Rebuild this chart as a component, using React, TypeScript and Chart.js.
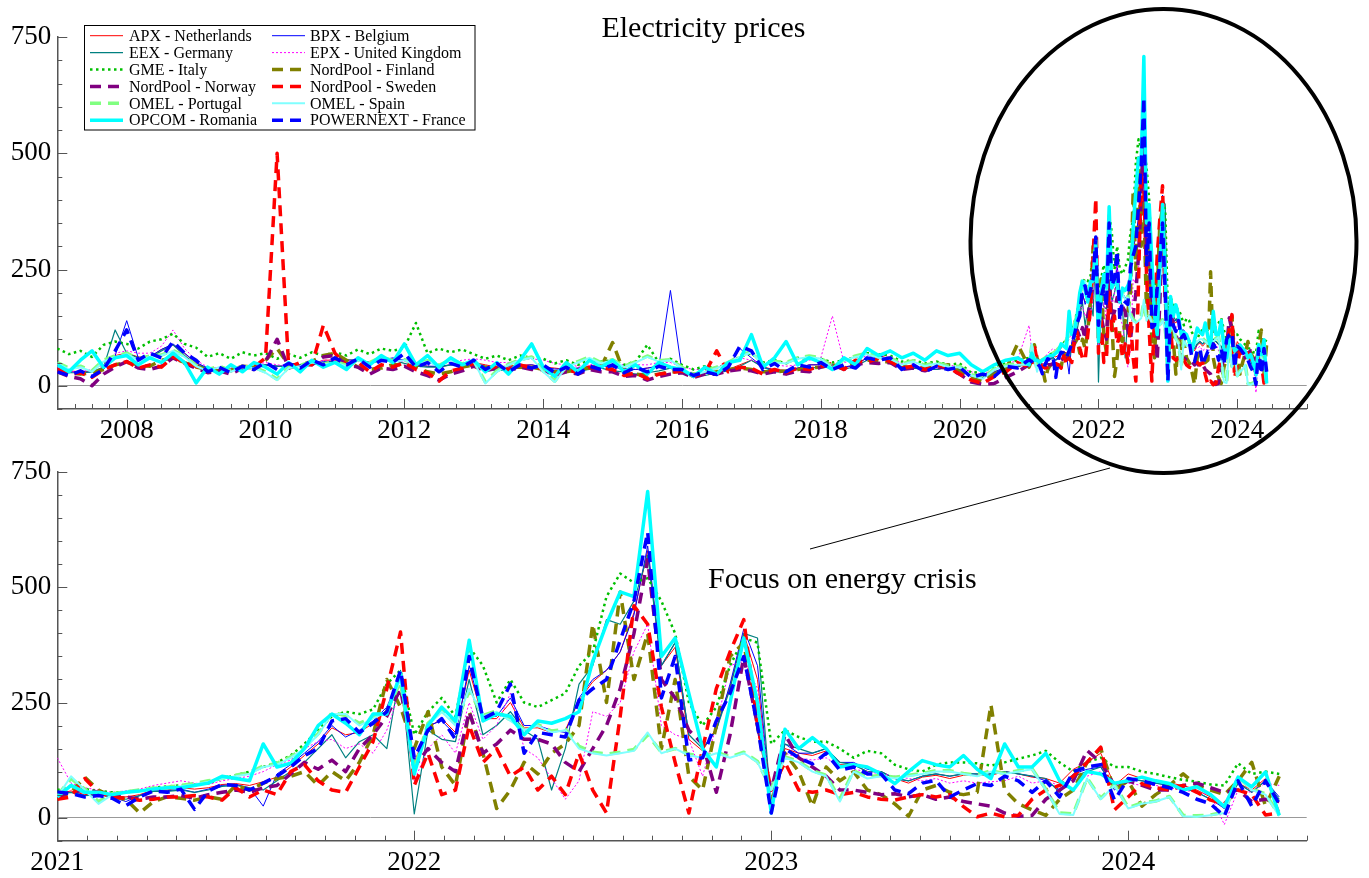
import React, { useEffect, useRef } from "react";
import { Chart, registerables } from "chart.js";
Chart.register(...registerables);

// ---------- time grids ----------
const HIST_START = 2007;
const HIST_STEP = 1 / 6; // two-monthly, 2007.0 .. 2020.83
const HIST_COUNT = 84;
const CRISIS_START = 2021;
const CRISIS_STEP = 1 / 26; // bi-weekly, 2021.0 .. 2024.42
const CRISIS_COUNT = 90;

const SERIES_NAMES = [
  "APX - Netherlands", "BPX - Belgium",
  "EEX - Germany", "EPX - United Kingdom",
  "GME - Italy", "NordPool - Finland",
  "NordPool - Norway", "NordPool - Sweden",
  "OMEL - Portugal", "OMEL - Spain",
  "OPCOM - Romania", "POWERNEXT - France",
];

// ---------- historical values (2007–2020) ----------
const nlHist = [38,32,30,32,38,65, 70,62,62,78,88,70, 48,38,33,36,36,42, 45,42,42,45,46,55, 55,55,55,50,55,58, 55,45,42,40,45,48, 50,45,40,42,45,45, 40,38,35,38,42,45, 40,38,35,38,42,42, 30,25,28,30,35,45, 55,40,35,33,38,45, 45,45,38,45,60,65, 58,40,38,35,35,40, 35,22,18,30,40,45];
const beHist = [36,30,28,30,35,65, 140,60,62,78,90,70, 50,38,33,36,35,40, 45,42,42,45,46,52, 52,55,55,50,55,60, 55,45,42,42,45,48, 48,42,38,40,42,45, 40,36,35,38,40,42, 40,36,35,38,42,205, 30,25,26,30,40,80, 60,40,33,33,38,45, 45,45,40,45,60,65, 55,40,38,35,35,40, 35,22,18,30,40,42];
const deHist = [32,28,28,30,40,120, 70,60,60,75,88,65, 45,38,33,35,35,38, 45,42,42,45,45,50, 52,55,55,50,52,55, 48,42,40,40,45,45, 42,38,32,35,38,38, 35,32,30,32,35,38, 32,30,25,28,32,38, 28,22,22,28,32,42, 55,40,30,30,35,38, 40,42,35,42,55,60, 52,40,38,35,35,40, 35,20,18,28,38,40];
const ukHist = [40,30,30,35,45,70, 75,70,70,85,120,80, 55,40,38,38,40,45, 50,45,42,45,48,55, 55,55,52,50,55,55, 52,50,48,45,50,55, 58,55,50,50,55,58, 55,48,45,42,45,50, 50,45,45,45,50,50, 40,35,35,40,50,60, 55,48,45,42,45,55, 60,150,50,55,65,70, 60,48,40,38,38,45, 40,30,25,35,45,55];
const itHist = [80,68,75,62,88,95, 90,80,95,100,112,90, 82,62,70,58,72,65, 70,58,68,60,72,65, 72,65,78,68,80,75, 82,135,70,80,72,78, 68,58,65,55,65,60, 58,48,55,45,56,52, 55,45,52,88,50,58, 45,35,42,38,48,62, 70,50,55,48,60,58, 58,50,55,62,70,68, 65,52,55,48,52,45, 48,28,30,42,48,55];
const fiHist = [30,28,25,28,35,45, 50,45,42,55,60,50, 40,35,32,35,38,40, 55,80,45,45,52,65, 70,55,40,35,38,45, 45,40,30,25,30,40, 45,40,38,40,40,40, 35,30,30,35,38,40, 93,28,25,22,25,30, 30,25,25,30,35,38, 35,30,30,32,35,38, 40,45,40,50,55,55, 50,42,38,38,40,45, 30,18,10,25,35,90];
const noHist = [30,20,15,0,25,40, 52,38,35,42,60,48, 38,28,32,25,38,35, 52,100,38,45,45,62, 65,45,40,25,38,35, 42,30,22,12,25,32, 42,32,38,32,40,35, 35,22,30,25,35,30, 30,20,22,12,20,25, 28,18,25,25,32,35, 32,25,30,25,32,30, 40,45,35,45,50,48, 50,35,38,32,40,38, 25,8,3,5,18,30];
const seHist = [35,25,28,18,35,45, 52,38,45,40,62,50, 42,30,40,32,42,40, 60,500,40,50,45,130, 70,45,50,30,45,40, 50,35,28,10,32,38, 48,35,42,35,45,38, 38,25,35,28,40,38, 35,22,28,15,25,28, 32,20,28,75,30,40, 38,25,35,28,38,35, 42,48,35,55,50,60, 52,38,42,35,45,40, 25,12,5,20,30,50];
const ptHist = [50,38,42,32,55,64, 70,58,64,66,76,64, 44,34,42,32,42,40, 30,14,40,44,52,47, 52,44,56,50,62,54, 56,46,54,44,56,47, 54,8,32,46,56,62, 32,10,42,52,62,50, 56,42,52,64,54,56, 40,24,32,40,50,64, 74,47,52,50,60,64, 60,40,56,64,70,62, 60,47,54,44,50,42, 42,24,17,36,44,47];
const esHist = [48,35,40,30,52,62, 68,55,62,65,75,62, 42,32,40,30,40,38, 28,12,38,42,50,45, 50,42,55,48,60,52, 55,45,52,42,55,45, 52,5,30,45,55,60, 30,8,40,50,60,48, 55,40,50,62,52,55, 38,22,30,38,48,62, 72,45,50,48,58,62, 58,38,55,62,68,60, 58,45,52,42,48,40, 40,22,15,35,42,45];
const roHist = [45,30,55,75,40,60, 65,45,60,50,70,50, 6,40,25,45,30,50, 40,25,50,30,55,40, 50,35,60,45,65,50, 90,45,65,40,60,45, 55,30,50,25,55,90, 40,20,50,30,55,40, 55,30,45,25,50,40, 35,20,40,25,50,55, 110,40,60,95,45,60, 50,35,60,45,80,65, 75,60,70,55,75,65, 70,45,30,45,55,60];
const frHist = [30,22,32,20,35,75, 120,55,70,60,95,70, 55,30,40,28,42,35, 50,35,48,38,55,45, 60,45,58,40,55,50, 70,40,50,30,48,40, 55,35,48,30,45,38, 45,28,40,25,42,35, 45,28,40,30,42,35, 35,22,30,24,40,85, 75,35,48,30,45,40, 50,35,45,38,60,55, 60,35,45,30,42,35, 40,18,25,20,42,38];

// ---------- crisis values (2021–2024.4, bi-weekly) ----------
const nlCrisis = [52,58,50,52,48,45,50,60,60,65, 62,65,72,74,70,78,88,110,135,160, 195,180,185,205,235,300,120,195,215,185, 320,215,215,250,195,195,185,190,255,295, 320,360,445,580,330,370,170,145,195,285, 400,300,20,150,140,135,145,115,115,100, 100,85,75,88,92,85,92,92,92,100, 95,88,85,75,105,120,140,70,95,85, 80,75,70,60,45,20,75,60,85,15];
const beCrisis = [55,55,48,50,45,35,48,58,58,62, 55,62,70,72,65,25,95,115,140,165, 200,175,190,210,240,310,110,200,210,180, 330,220,220,260,200,200,190,185,260,300, 320,360,440,590,330,380,180,150,190,290, 410,330,25,160,140,140,150,120,120,105, 100,85,80,90,95,90,95,95,95,100, 95,90,80,60,95,105,110,60,85,80, 75,70,65,55,40,20,75,55,80,45];
const deCrisis = [50,55,48,50,45,40,48,57,57,60, 55,60,68,70,65,60,80,100,120,150, 180,130,165,180,150,320,8,190,170,165, 300,180,200,230,190,170,60,150,290,330, 430,420,470,570,330,380,180,150,190,280, 400,390,20,160,150,140,150,120,115,100, 100,85,80,90,95,90,95,95,95,100, 95,90,85,55,90,100,110,65,85,80, 75,70,65,55,40,25,75,55,80,40];
const ukCrisis = [130,75,65,60,55,58,62,70,75,80, 75,72,80,85,90,100,115,125,150,165, 170,150,160,140,190,280,80,150,180,140, 250,170,200,270,150,130,85,40,80,230, 220,250,360,420,200,180,170,90,200,330, 340,280,40,140,130,125,130,110,105,100, 95,90,85,80,85,75,80,75,78,80, 90,75,80,70,80,90,100,70,75,70, 70,65,60,55,50,-15,60,55,75,70];
const itCrisis = [60,68,62,58,55,55,58,65,68,70, 72,75,85,92,100,110,120,135,160,190, 220,230,225,235,290,320,180,230,260,220, 370,330,250,300,250,240,255,270,330,360, 480,530,510,520,470,400,250,200,240,330, 390,380,160,190,175,165,165,150,130,145, 140,115,105,100,115,120,120,118,113,120, 128,135,145,120,100,120,130,110,110,100, 95,88,82,78,72,70,118,95,100,95];
const fiCrisis = [40,55,88,60,45,40,10,35,45,42, 38,45,40,70,60,75,85,90,100,70, 100,80,120,180,300,240,150,230,110,70, 230,140,20,60,120,95,140,160,200,420, 250,490,300,400,150,300,90,60,200,350, 380,200,30,140,100,25,110,80,100,60, 50,30,3,60,70,55,50,55,245,60, 30,17,5,40,60,120,150,60,80,25, 50,70,95,70,60,50,80,120,25,90];
const noCrisis = [45,55,60,55,48,45,40,45,45,48, 42,50,55,60,55,65,70,95,120,105, 125,100,150,180,220,280,110,150,120,100, 230,140,160,190,170,170,160,120,100,150, 200,280,400,560,300,260,190,160,55,180, 350,200,60,180,130,110,90,60,60,55, 50,52,45,50,40,45,35,30,25,10, 3,5,40,60,80,146,120,70,80,70, 60,60,70,75,65,55,60,35,40,35];
const seCrisis = [40,45,85,55,45,42,38,40,45,45, 48,45,38,65,45,60,50,100,115,80, 60,55,110,165,280,403,70,140,50,60, 200,120,150,90,110,60,90,50,140,60, 10,220,460,420,240,120,10,150,280,360, 430,200,60,120,60,55,60,50,55,45, 40,38,45,50,45,50,24,2,10,2, 5,40,60,70,90,120,153,17,45,74, 65,60,70,55,38,30,60,50,6,10];
const ptCrisis = [48,85,62,35,52,56,60,64,66,70, 74,80,86,92,98,112,118,132,152,182, 228,222,205,218,232,295,105,205,232,205, 275,222,232,212,192,202,188,192,155,142, 138,142,148,180,142,150,138,132,142,132, 142,122,62,132,122,102,92,40,102,88, 92,88,92,96,102,102,96,92,102,96, 102,106,62,10,8,86,42,72,22,32, 36,46,5,4,6,12,88,62,52,5];
const esCrisis = [45,90,60,30,50,55,58,62,65,68, 72,78,85,90,95,110,115,130,150,180, 225,225,200,215,230,300,100,200,230,200, 280,220,230,210,190,200,185,190,150,140, 135,140,145,185,140,150,135,130,140,130, 140,120,60,130,120,100,90,35,100,85, 90,85,90,95,100,100,95,90,100,95, 100,105,60,8,6,85,40,70,20,30, 35,45,3,2,5,10,88,60,50,3];
const roCrisis = [45,70,55,55,50,55,58,62,65,65, 70,75,90,85,80,160,110,118,150,200, 225,205,180,225,225,314,95,200,240,210, 385,210,225,220,180,210,205,215,230,340, 420,490,480,708,350,390,270,150,110,250, 390,250,10,192,150,174,150,110,115,110, 95,74,100,124,115,110,135,105,85,160, 110,110,140,80,60,100,95,75,80,88, 80,74,60,67,50,24,88,67,99,5];
const frCrisis = [56,52,45,48,42,26,45,58,55,62, 18,58,72,70,60,75,90,110,135,150, 210,215,185,205,230,320,130,190,215,170, 350,215,230,290,140,185,180,175,255,280, 300,385,470,620,260,350,125,130,210,270, 350,200,10,150,130,117,140,103,110,95, 95,60,52,75,81,45,60,74,70,90, 80,55,80,45,100,110,115,38,85,80, 72,65,55,40,30,3,80,25,80,30];

const HIST_VALUES = [nlHist, beHist, deHist, ukHist, itHist, fiHist, noHist, seHist, ptHist, esHist, roHist, frHist];
const CRISIS_VALUES = [nlCrisis, beCrisis, deCrisis, ukCrisis, itCrisis, fiCrisis, noCrisis, seCrisis, ptCrisis, esCrisis, roCrisis, frCrisis];

// ---------- styles ----------
const DASH = [11, 7];
const STYLES = [
  { color: "#ff0000", width: 1, dash: [] as number[] },
  { color: "#0000ff", width: 1, dash: [] as number[] },
  { color: "#008080", width: 1.2, dash: [] as number[] },
  { color: "#ff00ff", width: 1, dash: [2, 2] },
  { color: "#00c000", width: 2.5, dash: [2.5, 3.5] },
  { color: "#808000", width: 3.5, dash: DASH },
  { color: "#800080", width: 3.5, dash: DASH },
  { color: "#ff0000", width: 3.5, dash: DASH },
  { color: "#80ff80", width: 3.5, dash: DASH },
  { color: "#80ffff", width: 2, dash: [] as number[] },
  { color: "#00ffff", width: 3.5, dash: [] as number[] },
  { color: "#0000ff", width: 3.5, dash: DASH },
];

const FONT = "'Liberation Serif', 'Times New Roman', serif";
const AXIS_COLOR = "#555555";
const ZERO_COLOR = "#999999";
const W = 1369;

const histX = Array.from({ length: HIST_COUNT }, (_, j) => HIST_START + j * HIST_STEP);
const crisisX = Array.from({ length: CRISIS_COUNT }, (_, k) => CRISIS_START + k * CRISIS_STEP);

function buildDatasets(full: boolean) {
  return SERIES_NAMES.map((name, i) => {
    const xs = full ? histX.concat(crisisX) : crisisX;
    const ys = full ? HIST_VALUES[i].concat(CRISIS_VALUES[i]) : CRISIS_VALUES[i];
    const st = STYLES[i];
    return {
      label: name,
      data: xs.map((x, n) => ({ x, y: ys[n] })),
      borderColor: st.color,
      backgroundColor: st.color,
      borderWidth: st.width,
      borderDash: st.dash,
      borderJoinStyle: "round" as const,
      pointRadius: 0,
      tension: 0,
      fill: false,
      order: SERIES_NAMES.length - i,
    };
  });
}

function tickPlugin(kind: "top" | "bottom") {
  return {
    id: "inwardTicks",
    afterDraw(chart: any) {
      const ctx = chart.ctx;
      const { left, bottom } = chart.chartArea;
      const xs = chart.scales.x;
      const ys = chart.scales.y;
      ctx.save();
      ctx.strokeStyle = AXIS_COLOR;
      ctx.lineWidth = 1;
      ctx.beginPath();
      for (let v = -50; v <= 750; v += 50) {
        const y = Math.round(ys.getPixelForValue(v)) + 0.5;
        const len = v % 250 === 0 ? 10 : 5;
        ctx.moveTo(left, y);
        ctx.lineTo(left + len, y);
      }
      if (kind === "top") {
        for (let q = 0; q <= 72; q++) {
          const year = 2007 + q / 4;
          const x = Math.round(xs.getPixelForValue(year)) + 0.5;
          const major = q % 4 === 0 && year % 2 === 0;
          ctx.moveTo(x, bottom);
          ctx.lineTo(x, bottom - (major ? 10 : 5));
        }
      } else {
        for (let m = 0; m <= 42; m++) {
          const v = 2021 + m / 12;
          const x = Math.round(xs.getPixelForValue(v)) + 0.5;
          const major = m % 12 === 0;
          ctx.moveTo(x, bottom);
          ctx.lineTo(x, bottom - (major ? 10 : 5));
        }
      }
      ctx.stroke();
      ctx.restore();
    },
  };
}

const legendPlugin = {
  id: "customLegend",
  afterDraw(chart: any) {
    const ctx = chart.ctx;
    ctx.save();
    ctx.fillStyle = "#ffffff";
    ctx.fillRect(84.5, 25.5, 390.5, 104.5);
    ctx.strokeStyle = "#000000";
    ctx.lineWidth = 1;
    ctx.strokeRect(84.5, 25.5, 390.5, 104.5);
    ctx.font = `16px ${FONT}`;
    ctx.textBaseline = "middle";
    SERIES_NAMES.forEach((name, i) => {
      const row = Math.floor(i / 2);
      const col = i % 2;
      const y = 35.7 + row * 16.9;
      const x0 = col === 0 ? 90 : 272;
      const st = STYLES[i];
      ctx.strokeStyle = st.color;
      ctx.lineWidth = st.width;
      ctx.setLineDash(st.dash);
      ctx.beginPath();
      ctx.moveTo(x0, y);
      ctx.lineTo(x0 + 33, y);
      ctx.stroke();
      ctx.setLineDash([]);
      ctx.fillStyle = "#000000";
      ctx.fillText(name, col === 0 ? 129 : 310, y + 1);
    });
    ctx.restore();
  },
};

function makeOptions(xmin: number, xmax: number, padTop: number, xAxisH: number, xLabel: (v: number) => string): any {
  return {
    responsive: false,
    maintainAspectRatio: false,
    animation: false,
    layout: { padding: { top: padTop, right: W - 1306.7, left: 0, bottom: 0 } },
    plugins: { legend: { display: false }, tooltip: { enabled: false }, title: { display: false } },
    scales: {
      x: {
        type: "linear",
        min: xmin,
        max: xmax,
        grid: { display: true, drawOnChartArea: false, drawTicks: false, color: "rgba(0,0,0,0)" },
        border: { display: true, color: AXIS_COLOR, width: 1.5 },
        ticks: {
          stepSize: 1,
          autoSkip: false,
          maxRotation: 0,
          minRotation: 0,
          padding: 6,
          color: "#000000",
          font: { size: 27, family: FONT },
          callback: (v: any) => xLabel(Number(v)),
        },
        afterFit: (s: any) => {
          s.height = xAxisH;
        },
      },
      y: {
        type: "linear",
        min: -50,
        max: 750,
        grid: {
          display: true,
          drawTicks: false,
          lineWidth: 1,
          color: (c: any) => (c.tick && c.tick.value === 0 ? ZERO_COLOR : "rgba(0,0,0,0)"),
        },
        border: { display: true, color: AXIS_COLOR, width: 1.5 },
        ticks: {
          stepSize: 50,
          autoSkip: false,
          padding: 6,
          color: "#000000",
          font: { size: 27, family: FONT },
          callback: (v: any) => {
            const n = Number(v);
            return n >= 0 && n % 250 === 0 ? String(n) : "";
          },
        },
        afterFit: (s: any) => {
          s.width = 57.3;
        },
      },
    },
  };
}

export default function App() {
  const topRef = useRef<HTMLCanvasElement | null>(null);
  const botRef = useRef<HTMLCanvasElement | null>(null);

  useEffect(() => {
    Chart.defaults.font.family = FONT;
    const top = new Chart(topRef.current as HTMLCanvasElement, {
      type: "line",
      data: { datasets: buildDatasets(true) as any },
      options: makeOptions(2007, 2025, 37, 41, (v) => (Number.isInteger(v) && v % 2 === 0 ? String(v) : "")),
      plugins: [tickPlugin("top"), legendPlugin],
    });
    const bot = new Chart(botRef.current as HTMLCanvasElement, {
      type: "line",
      data: { datasets: buildDatasets(false) as any },
      options: makeOptions(2021, 2024.5, 18.7, 37.3, (v) => (Number.isInteger(v) ? String(v) : "")),
      plugins: [tickPlugin("bottom")],
    });
    return () => {
      top.destroy();
      bot.destroy();
    };
  }, []);

  return (
    <div style={{ position: "absolute", left: 0, top: 0, width: W, height: 878, background: "#fff" }}>
      <canvas ref={topRef} width={W} height={450} style={{ position: "absolute", left: 0, top: 0, width: W, height: 450 }} />
      <canvas ref={botRef} width={W} height={428} style={{ position: "absolute", left: 0, top: 450, width: W, height: 428 }} />
      <svg width={W} height={878} style={{ position: "absolute", left: 0, top: 0, pointerEvents: "none" }}>
        <text x={703.5} y={37} textAnchor="middle" fontFamily={FONT} fontSize={30} fill="#000">
          Electricity prices
        </text>
        <ellipse cx={1163.5} cy={241} rx={193} ry={232} fill="none" stroke="#000" strokeWidth={4} />
        <line x1={810} y1={549} x2={1110} y2={468} stroke="#000" strokeWidth={1} />
        <text x={708} y={588} fontFamily={FONT} fontSize={30} fill="#000">
          Focus on energy crisis
        </text>
      </svg>
    </div>
  );
}
